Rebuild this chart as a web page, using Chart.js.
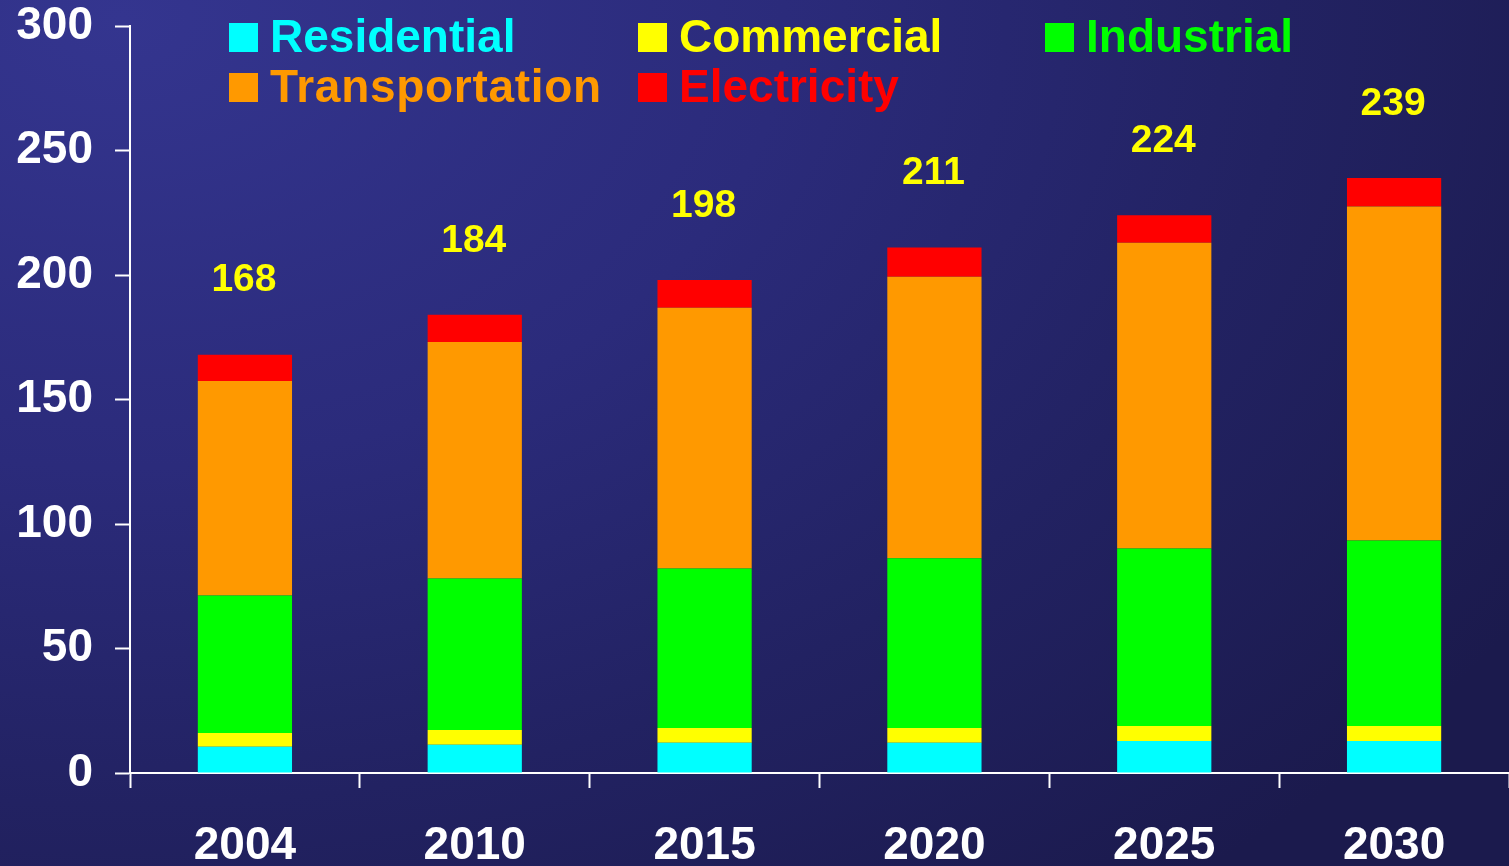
<!DOCTYPE html>
<html>
<head>
<meta charset="utf-8">
<script src="https://cdn.jsdelivr.net/npm/chart.js@4/dist/chart.umd.min.js"></script>
<style>
  html, body { margin: 0; padding: 0; }
  body {
    width: 1509px; height: 866px; overflow: hidden;
    background: radial-gradient(ellipse 110% 130% at 8% 2%, #34358f 0%, #2b2b7b 40%, #222262 70%, #1b1a4d 100%);
  }
  #wrap { position: relative; width: 1509px; height: 866px; }
</style>
</head>
<body>
<div id="wrap"><canvas id="myCanvas" width="1509" height="866"></canvas></div>
<script>
var years = ["2004", "2010", "2015", "2020", "2025", "2030"];
var residential = [10.5, 11.3, 12.1, 12.1, 12.9, 12.9];
var commercial = [5.6, 6.0, 6.0, 6.0, 6.0, 6.0];
var industrial = [55.2, 60.8, 64.0, 68.1, 71.3, 74.5];
var transportation = [86.1, 95.0, 104.7, 113.1, 122.8, 134.1];
var electricity = [10.6, 10.9, 11.2, 11.7, 11.0, 11.5];
var totals = [168, 184, 198, 211, 224, 239];
var yTicks = [0, 50, 100, 150, 200, 250, 300];

var font = "'Liberation Sans', Arial, sans-serif";

var legendItems = [
    { text: "Residential", color: "#00ffff", col: 0, row: 0 },
    { text: "Commercial", color: "#ffff00", col: 1, row: 0 },
    { text: "Industrial", color: "#00ff00", col: 2, row: 0 },
    { text: "Transportation", color: "#ff9900", col: 0, row: 1 },
    { text: "Electricity", color: "#ff0000", col: 1, row: 1 }
];

// legend drawn by hand so the columns line up like the original slide
var customLegend = {
    id: 'customLegend',
    afterDraw: function (chart) {
        var ctx = chart.ctx;
        var colX = [229, 638, 1045];
        ctx.save();
        ctx.font = "bold 46px " + font;
        ctx.textBaseline = "alphabetic";
        ctx.textAlign = "left";
        legendItems.forEach(function (it) {
            var x = colX[it.col];
            var base = 52 + it.row * 50;
            ctx.fillStyle = it.color;
            ctx.fillRect(x, base - 29, 29, 29);
            ctx.letterSpacing = it.text == "Transportation" ? "0.7px" : "0px";
            ctx.fillText(it.text, x + 41, base);
        });
        ctx.restore();
    }
};

// totals above each stack
var totalLabels = {
    id: 'totalLabels',
    afterDatasetsDraw: function (chart) {
        var ctx = chart.ctx;
        var xs = chart.scales.x, ys = chart.scales.y;
        ctx.save();
        ctx.font = "bold 39px " + font;
        ctx.fillStyle = "#ffff00";
        ctx.textAlign = "center";
        ctx.textBaseline = "middle";
        for (var i = 0; i < totals.length; i++) {
            ctx.fillText(String(totals[i]), xs.getPixelForValue(i) - 1, ys.getPixelForValue(totals[i]) - 74);
        }
        ctx.restore();
    }
};

var ctx = document.getElementById("myCanvas").getContext('2d');
var seriesColors = ["#00ffff", "#ffff00", "#00ff00", "#ff9900", "#ff0000"];
var seriesData = [residential, commercial, industrial, transportation, electricity];
var seriesNames = ["Residential", "Commercial", "Industrial", "Transportation", "Electricity"];

var datasets = [];
for (var i = 0; i < seriesData.length; i++) {
    datasets.push({
        label: seriesNames[i],
        data: seriesData[i],
        backgroundColor: seriesColors[i],
        borderWidth: 0,
        barPercentage: 0.41,
        categoryPercentage: 1.0
    });
}

var emissionsChart = new Chart(ctx, {
    type: 'bar',
    data: { labels: years, datasets: datasets },
    options: {
        responsive: false,
        animation: false,
        layout: { padding: { top: 26, right: 0, left: 0, bottom: 0 } },
        plugins: {
            legend: { display: false },
            tooltip: { enabled: false }
        },
        scales: {
            x: {
                stacked: true,
                offset: true,
                grid: {
                    offset: true,
                    drawOnChartArea: false,
                    drawTicks: true,
                    tickLength: 15,
                    tickWidth: 2,
                    tickColor: "#ffffff"
                },
                border: { display: true, color: "#ffffff", width: 2 },
                ticks: {
                    color: "#ffffff",
                    font: { family: font, size: 46, weight: "bold" },
                    padding: 31
                },
                afterFit: function (scale) { scale.height = 93; }
            },
            y: {
                stacked: true,
                min: 0,
                max: 300,
                afterBuildTicks: function (scale) {
                    scale.ticks = yTicks.map(function (v) { return { value: v }; });
                },
                grid: {
                    drawOnChartArea: false,
                    drawTicks: true,
                    tickLength: 15,
                    tickWidth: 2,
                    tickColor: "#ffffff"
                },
                border: { display: true, color: "#ffffff", width: 2 },
                ticks: {
                    color: "#ffffff",
                    font: { family: font, size: 46, weight: "bold", lineHeight: 0.1 },
                    padding: 22
                },
                afterFit: function (scale) { scale.width = 130; }
            }
        }
    },
    plugins: [totalLabels, customLegend]
});
</script>
</body>
</html>
